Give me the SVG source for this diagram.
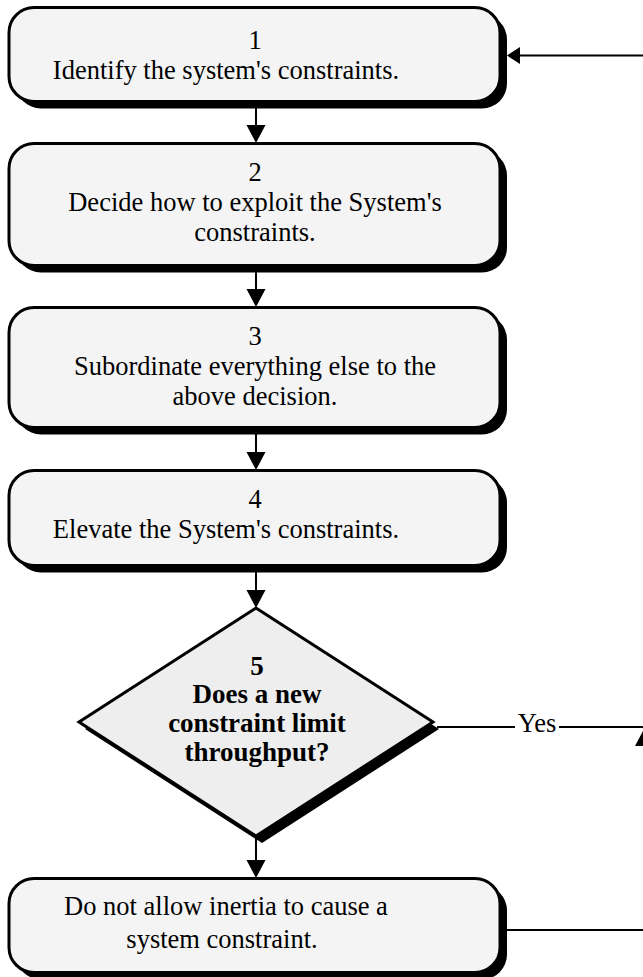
<svg xmlns="http://www.w3.org/2000/svg" width="643" height="977" viewBox="0 0 643 977">
<defs>
<style>
.sh{fill:#000}
.box{fill:#f4f4f4;stroke:#000;stroke-width:3}
.dia{fill:#eeeeee;stroke:#000;stroke-width:3}
.t{font-family:"Liberation Serif","Times New Roman",serif;font-size:26.5px;fill:#000;text-anchor:middle}
.b{font-weight:bold;font-size:27px}
.ln{stroke:#000;stroke-width:2;fill:none}
.ah{fill:#000}
</style>
</defs>
<rect width="643" height="977" fill="#fff"/>
<g id="connectors">
<line class="ln" x1="256" y1="108" x2="256" y2="126"/>
<polygon class="ah" points="246.5,125 265.5,125 256,143"/>
<line class="ln" x1="256" y1="272" x2="256" y2="290"/>
<polygon class="ah" points="246.5,289 265.5,289 256,307"/>
<line class="ln" x1="256" y1="434" x2="256" y2="453"/>
<polygon class="ah" points="246.5,452 265.5,452 256,470"/>
<line class="ln" x1="256" y1="572" x2="256" y2="591"/>
<polygon class="ah" points="246.5,590 265.5,590 256,608"/>
<line class="ln" x1="256" y1="836" x2="256" y2="861"/>
<polygon class="ah" points="246.5,860 265.5,860 256,878"/>
<line class="ln" x1="643" y1="55.5" x2="518" y2="55.5"/>
<polygon class="ah" points="507,55.5 520,47 520,64"/>
<line class="ln" x1="437" y1="727" x2="515" y2="727"/>
<line class="ln" x1="559" y1="727" x2="643" y2="727"/>
<polygon class="ah" points="644,729 635,746 653,746"/>
<line class="ln" x1="507" y1="930" x2="643" y2="930"/>
<text class="t" x="537" y="732">Yes</text>
</g>
<g id="n1">
<rect class="sh" x="16" y="14.5" width="491" height="94" rx="25"/>
<rect class="box" x="9" y="7.5" width="491" height="94" rx="25"/>
<text class="t" x="255" y="49">1</text>
<text class="t" x="226" y="79">Identify the system's constraints.</text>
</g>
<g id="n2">
<rect class="sh" x="16" y="150.5" width="491" height="122" rx="25"/>
<rect class="box" x="9" y="143.5" width="491" height="122" rx="25"/>
<text class="t" x="255" y="181">2</text>
<text class="t" x="255" y="211">Decide how to exploit the System's</text>
<text class="t" x="255" y="241">constraints.</text>
</g>
<g id="n3">
<rect class="sh" x="16" y="314.5" width="491" height="120" rx="25"/>
<rect class="box" x="9" y="307.5" width="491" height="120" rx="25"/>
<text class="t" x="255" y="345">3</text>
<text class="t" x="255" y="375">Subordinate everything else to the</text>
<text class="t" x="255" y="405">above decision.</text>
</g>
<g id="n4">
<rect class="sh" x="16" y="477.5" width="491" height="95" rx="25"/>
<rect class="box" x="9" y="470.5" width="491" height="95" rx="25"/>
<text class="t" x="255" y="508">4</text>
<text class="t" x="226" y="538">Elevate the System's constraints.</text>
</g>
<g id="n5">
<polygon class="sh" points="262,615 439,729 262,843 85,729"/>
<polygon class="dia" points="256,608 433,722 256,836 79,722"/>
<text class="t b" x="257" y="675">5</text>
<text class="t b" x="257" y="703">Does a new</text>
<text class="t b" x="257" y="732">constraint limit</text>
<text class="t b" x="257" y="761">throughput?</text>
</g>
<g id="n6">
<rect class="sh" x="16" y="885.5" width="491" height="94" rx="25"/>
<rect class="box" x="9" y="878.5" width="491" height="94" rx="25"/>
<text class="t" x="226" y="915">Do not allow inertia to cause a</text>
<text class="t" x="222" y="948">system constraint.</text>
</g>
</svg>
